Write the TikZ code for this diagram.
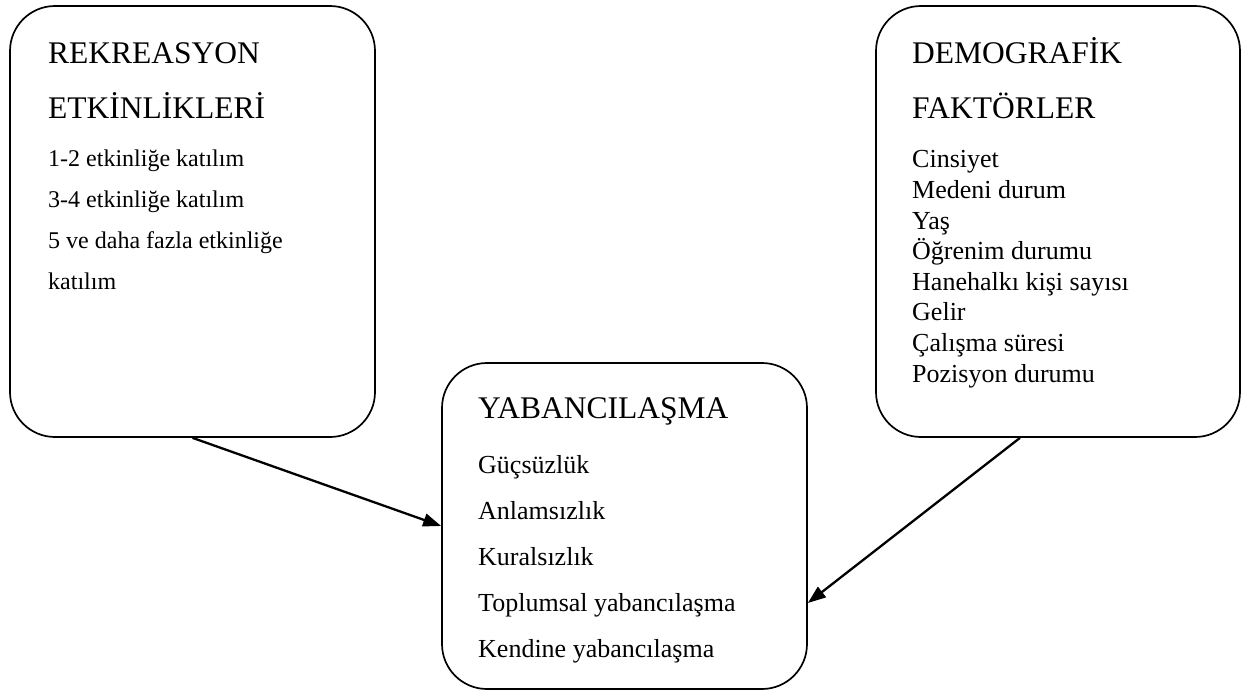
\documentclass[tikz,border=0pt]{standalone}
\usepackage{fontspec}
\setmainfont{Liberation Serif}
\usetikzlibrary{arrows.meta}
\begin{document}
\begin{tikzpicture}[x=1pt, y=-1pt]

\tikzstyle{kutu} = [rectangle, draw, line width=1.7pt, rounded corners=45pt, inner sep=0pt, minimum width=365pt]
\tikzstyle{baslik} = [anchor=base west, inner sep=0pt, align=left, font=\fontsize{31.5}{55}\selectfont]
\tikzstyle{madde} = [anchor=base west, inner sep=0pt, align=left]
\tikzstyle{ok} = [-{Triangle[length=18pt, width=13pt]}, line width=2.3pt]

\useasboundingbox (0,0) rectangle (1243,691);

% Kutular
\node[kutu, minimum height=431pt] (rekreasyon) at (192.5,221.5) {};
\node[kutu, minimum height=431pt, minimum width=364pt] (demografik) at (1058,221.5) {};
\node[kutu, minimum height=326pt] (yabancilasma) at (624.5,526) {};

% Yazilar (base = son satir)
\node[baslik] (rekbaslik) at (48,118) {REKREASYON\\ETKİNLİKLERİ};
\node[madde, font=\fontsize{24}{41}\selectfont] (rekmadde) at (48,289)
  {1-2 etkinliğe katılım\\3-4 etkinliğe katılım\\5 ve daha fazla etkinliğe\\katılım};

\node[baslik] (dembaslik) at (912,118) {DEMOGRAFİK\\FAKTÖRLER};
\node[madde, font=\fontsize{26}{30.6}\selectfont] (demmadde) at (912,382)
  {Cinsiyet\\Medeni durum\\Yaş\\Öğrenim durumu\\Hanehalkı kişi sayısı\\Gelir\\Çalışma süresi\\Pozisyon durumu};

\node[baslik] (yabbaslik) at (478,418) {YABANCILAŞMA};
\node[madde, font=\fontsize{26}{46}\selectfont] (yabmadde) at (478,657)
  {Güçsüzlük\\Anlamsızlık\\Kuralsızlık\\Toplumsal yabancılaşma\\Kendine yabancılaşma};

% Oklar
\draw[ok] (rekreasyon.south) -- (yabancilasma.west);
\draw[ok] ([xshift=-38pt]demografik.south) -- ([yshift=-77pt]yabancilasma.east);

\end{tikzpicture}
\end{document}
